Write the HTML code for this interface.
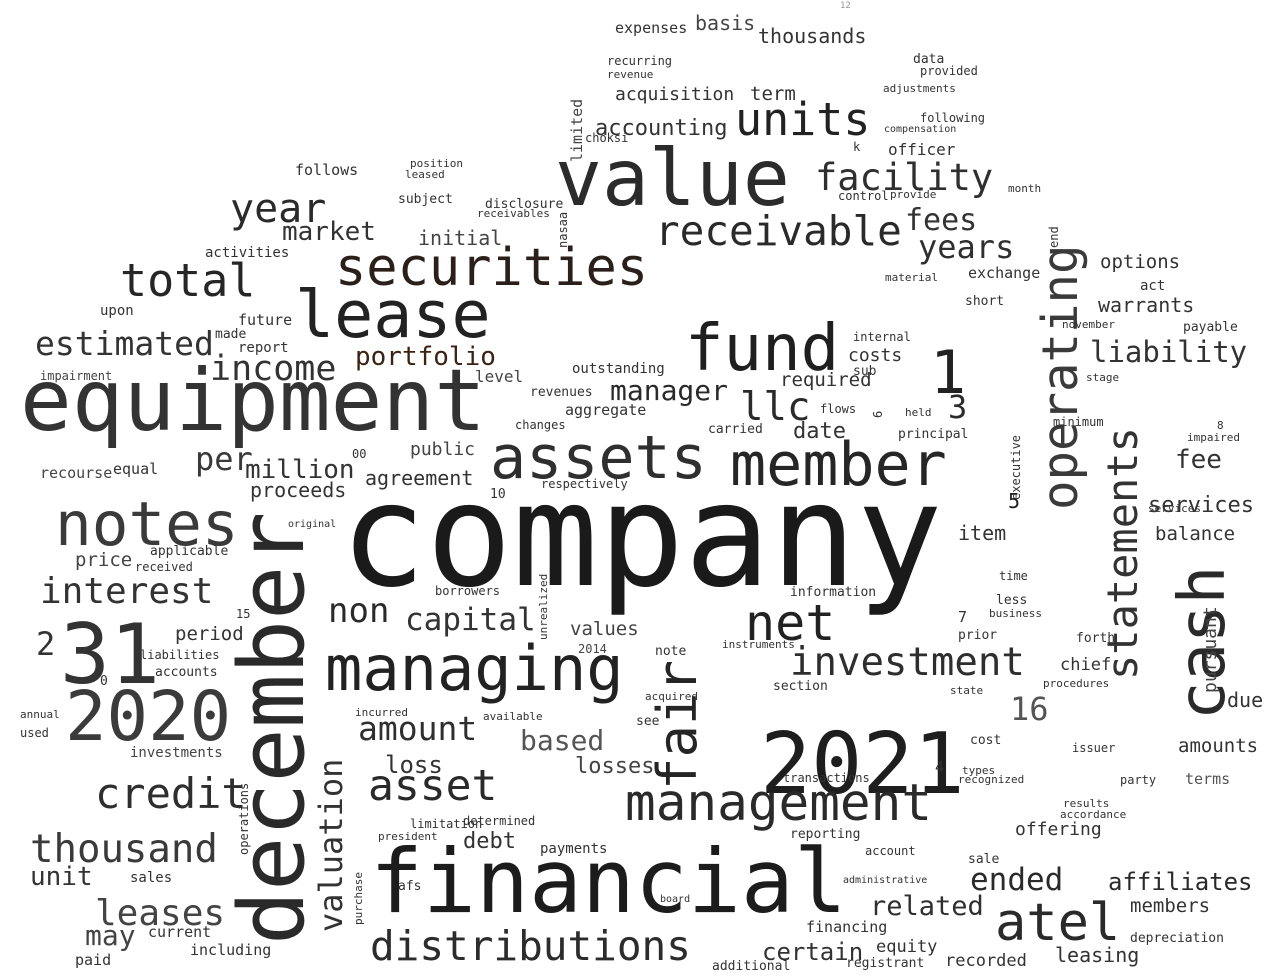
<!DOCTYPE html>
<html><head><meta charset="utf-8"><style>
html,body{margin:0;padding:0;background:#fff;}
svg{display:block;}
text{font-family:"DejaVu Sans Mono","Liberation Mono",monospace;}
</style></head>
<body>
<svg width="1280" height="977" viewBox="0 0 1280 977">
<rect width="1280" height="977" fill="#fff"/>
<g id="words"></g>
</svg>
<script>
// word cloud data: word, font size, colour, x, y, rotation
const words = [
["company",143,"#1a1a1a",340,585,0],
["financial",88,"#1c1c1c",370,912,0],
["december",90,"#2a2a2a",303,945,-90],
["value",78,"#2b2b2b",555,205,0],
["equipment",86,"#333",20,430,0],
["2021",85,"#1e1e1e",760,793,0],
["managing",62,"#222",325,690,0],
["fund",64,"#1f1f1f",685,370,0],
["lease",65,"#222",295,337,0],
["securities",52,"#2a1f1a",335,285,0],
["member",60,"#262626",730,485,0],
["assets",60,"#2f2f2f",490,478,0],
["notes",61,"#3a3a3a",55,545,0],
["31",83,"#333",60,683,0],
["2020",69,"#3b3b3b",65,740,0],
["management",51,"#2a2a2a",625,820,0],
["atel",52,"#2a2a2a",995,940,0],
["distributions",41,"#2c2c2c",370,960,0],
["credit",42,"#2e2e2e",95,808,0],
["thousand",39,"#3a3a3a",30,862,0],
["interest",36,"#333",40,603,0],
["total",45,"#262626",120,296,0],
["year",40,"#2a2a2a",230,222,0],
["estimated",33,"#333",35,355,0],
["units",45,"#222",735,135,0],
["receivable",41,"#2a2a2a",655,245,0],
["facility",37,"#2f2f2f",815,190,0],
["operating",49,"#3a3a3a",1077,510,-90],
["statements",42,"#333",1137,680,-90],
["cash",64,"#2a2a2a",1224,720,-90],
["fair",54,"#252525",696,790,-90],
["valuation",32,"#333",342,932,-90],
["net",50,"#222",745,640,0],
["investment",39,"#2e2e2e",790,675,0],
["capital",31,"#333",405,630,0],
["non",34,"#2a2a2a",328,622,0],
["asset",43,"#2a2a2a",368,800,0],
["amount",33,"#2f2f2f",358,740,0],
["leases",36,"#444",95,925,0],
["income",35,"#333",210,380,0],
["llc",39,"#2a2a2a",740,420,0],
["liability",29,"#333",1090,362,0],
["related",27,"#2f2f2f",870,915,0],
["affiliates",24,"#2a2a2a",1108,890,0],
["ended",31,"#2a2a2a",970,890,0],
["million",26,"#333",245,478,0],
["per",32,"#3a3a3a",195,470,0],
["1",60,"#222",930,393,0],
["3",32,"#2a2a2a",948,418,0],
["16",32,"#555",1010,720,0],
["2",32,"#333",36,655,0],
["portfolio",26,"#3b2314",355,365,0],
["years",32,"#2f2f2f",918,258,0],
["fees",30,"#333",905,230,0],
["market",26,"#333",282,240,0],
["manager",28,"#2a2a2a",610,400,0],
["accounting",22,"#333",595,135,0],
["based",28,"#555",520,750,0],
["losses",22,"#444",575,773,0],
["loss",24,"#333",385,773,0],
["may",28,"#444",85,945,0],
["unit",26,"#333",30,885,0],
["proceeds",20,"#333",250,497,0],
["agreement",20,"#333",365,485,0],
["public",18,"#444",410,455,0],
["debt",22,"#333",463,848,0],
["certain",24,"#333",762,960,0],
["leasing",20,"#333",1055,962,0],
["members",19,"#333",1130,912,0],
["fee",26,"#333",1175,468,0],
["services",22,"#333",1148,512,0],
["balance",19,"#333",1155,540,0],
["warrants",20,"#333",1098,312,0],
["options",19,"#333",1100,268,0],
["due",20,"#333",1227,707,0],
["amounts",19,"#333",1178,752,0],
["pursuant",18,"#444",1216,693,-90],
["item",20,"#333",958,540,0],
["initial",20,"#444",418,245,0],
["basis",20,"#444",695,30,0],
["thousands",20,"#333",758,43,0],
["term",19,"#333",750,100,0],
["acquisition",18,"#333",615,100,0],
["expenses",15,"#333",615,33,0],
["required",19,"#333",780,386,0],
["date",22,"#333",793,438,0],
["costs",18,"#333",848,361,0],
["period",19,"#333",175,640,0],
["price",19,"#444",75,566,0],
["values",19,"#444",570,635,0],
["equity",17,"#333",876,952,0],
["recorded",17,"#333",945,966,0],
["offering",18,"#333",1015,835,0],
["financing",15,"#333",806,932,0],
["chief",17,"#333",1060,670,0],
["limited",15,"#444",582,162,-90],
["level",16,"#444",475,382,0],
["outstanding",14,"#333",572,373,0],
["aggregate",15,"#333",565,415,0],
["follows",15,"#333",295,175,0],
["future",15,"#333",238,325,0],
["officer",16,"#333",888,155,0],
["exchange",15,"#333",968,278,0],
["recourse",15,"#444",40,478,0],
["impairment",12,"#444",40,380,0],
["current",15,"#333",148,937,0],
["including",15,"#333",190,955,0],
["paid",15,"#333",75,965,0],
["investments",14,"#444",130,757,0],
["payments",14,"#333",540,853,0],
["transactions",12,"#333",783,782,0],
["reporting",13,"#333",790,838,0],
["depreciation",13,"#333",1130,942,0],
["terms",15,"#555",1185,784,0],
["equal",15,"#333",113,474,0],
["upon",14,"#333",100,315,0],
["made",13,"#333",215,338,0],
["report",14,"#333",238,352,0],
["activities",14,"#333",205,257,0],
["information",13,"#333",790,596,0],
["section",13,"#333",773,690,0],
["principal",13,"#333",898,438,0],
["act",14,"#333",1140,290,0],
["payable",13,"#333",1183,331,0],
["operations",12,"#333",248,855,-90],
["recurring",12,"#333",607,65,0],
["adjustments",11,"#333",883,92,0],
["provided",12,"#333",920,75,0],
["data",13,"#333",913,63,0],
["following",12,"#333",920,122,0],
["compensation",10,"#333",884,132,0],
["control",12,"#333",838,200,0],
["provide",11,"#333",890,198,0],
["receivables",11,"#333",477,217,0],
["disclosure",13,"#333",485,208,0],
["subject",13,"#333",398,203,0],
["position",11,"#333",410,167,0],
["leased",11,"#333",405,178,0],
["revenue",11,"#333",607,78,0],
["choksi",12,"#333",585,142,0],
["revenues",13,"#333",530,396,0],
["changes",12,"#333",515,429,0],
["carried",13,"#333",708,433,0],
["respectively",12,"#333",541,488,0],
["flows",12,"#333",820,413,0],
["minimum",12,"#333",1053,426,0],
["stage",11,"#333",1086,381,0],
["november",11,"#333",1062,328,0],
["month",11,"#333",1008,192,0],
["material",11,"#333",885,281,0],
["short",13,"#333",965,305,0],
["internal",12,"#333",853,341,0],
["sub",13,"#333",853,375,0],
["held",11,"#333",905,416,0],
["services",11,"#333",1148,512,0],
["less",13,"#333",996,604,0],
["business",11,"#333",989,617,0],
["prior",13,"#333",958,639,0],
["time",12,"#333",999,580,0],
["forth",13,"#333",1076,642,0],
["procedures",11,"#333",1043,687,0],
["issuer",12,"#333",1072,752,0],
["party",12,"#333",1120,784,0],
["results",11,"#333",1063,807,0],
["accordance",11,"#333",1060,818,0],
["state",11,"#333",950,694,0],
["cost",13,"#333",970,744,0],
["recognized",11,"#333",958,783,0],
["types",11,"#333",962,774,0],
["sale",13,"#333",968,863,0],
["registrant",13,"#333",846,967,0],
["account",12,"#333",865,855,0],
["administrative",10,"#333",843,883,0],
["note",13,"#333",655,655,0],
["instruments",11,"#333",722,648,0],
["acquired",11,"#333",645,700,0],
["available",11,"#333",483,720,0],
["incurred",11,"#333",355,716,0],
["limitation",12,"#333",410,828,0],
["determined",12,"#333",463,825,0],
["president",11,"#333",378,840,0],
["borrowers",12,"#333",435,595,0],
["see",13,"#333",636,725,0],
["additional",13,"#333",712,970,0],
["board",10,"#333",660,902,0],
["applicable",13,"#333",150,555,0],
["received",12,"#333",135,571,0],
["accounts",13,"#333",155,676,0],
["liabilities",12,"#333",140,659,0],
["sales",14,"#333",130,882,0],
["annual",11,"#333",20,718,0],
["used",12,"#333",20,737,0],
["00",12,"#333",352,458,0],
["10",13,"#333",490,498,0],
["15",12,"#333",236,618,0],
["7",15,"#333",958,622,0],
["4",15,"#333",935,772,0],
["5",20,"#222",1008,508,0],
["0",13,"#333",100,685,0],
["2014",12,"#444",578,653,0],
["original",10,"#333",288,527,0],
["purchase",11,"#333",362,925,-90],
["afs",13,"#333",398,890,0],
["unrealized",11,"#333",547,640,-90],
["nasaa",12,"#333",567,248,-90],
["end",12,"#333",1058,248,-90],
["executive",12,"#333",1020,500,-90],
["k",12,"#333",853,151,0],
["6",12,"#333",882,418,-90],
["8",11,"#333",1217,429,0],
["impaired",11,"#333",1187,441,0],
["12",9,"#999",840,8,0]
];
const g = document.getElementById('words');
const NS = 'http://www.w3.org/2000/svg';
for (const w of words) {
  const t = document.createElementNS(NS, 'text');
  t.textContent = w[0];
  t.setAttribute('font-size', w[1]);
  t.setAttribute('fill', w[2]);
  t.setAttribute('transform', 'translate(' + w[3] + ',' + w[4] + ') rotate(' + w[5] + ')');
  
  
  g.appendChild(t);
}
</script>
</body></html>
